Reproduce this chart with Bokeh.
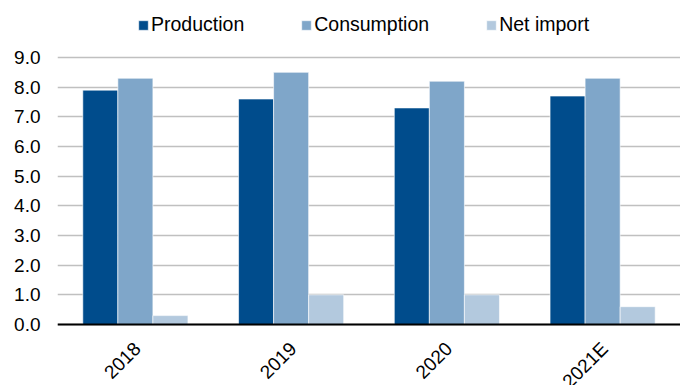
import math

from bokeh.core.properties import value
from bokeh.embed import file_html
from bokeh.models import (ColumnDataSource, FactorRange, FixedTicker, Legend,
                          LegendItem, NumeralTickFormatter, Range1d, Span)
from bokeh.plotting import figure
from bokeh.resources import INLINE
from bokeh.transform import dodge

# Annual balance (values per year)
years = ["2018", "2019", "2020", "2021E"]
production = [7.9, 7.6, 7.3, 7.7]
consumption = [8.3, 8.5, 8.2, 8.3]
net_import = [0.3, 1.0, 1.0, 0.6]

y_ticks = [0, 1, 2, 3, 4, 5, 6, 7, 8, 9]

series_names = ["Production", "Consumption", "Net import"]
series_colors = ["#004C8C", "#7FA6C9", "#B3C9DE"]

FONT = "Liberation Sans"
FONT_SIZE = "19px"
LEGEND_FONT_SIZE = "19.5px"

source = ColumnDataSource(dict(
    year=years,
    production=production,
    consumption=consumption,
    net_import=net_import,
    base=[0] * len(years),
))

# the frame spans the full height: the legend sits above the 9.0 line and
# the slanted year labels hang below the zero line
p = figure(
    x_range=FactorRange(factors=years, range_padding=0),
    y_range=Range1d(-2.056, 10.921),
    width=680, height=385,
    output_backend="svg",
    toolbar_location=None,
    x_axis_location=None,
    min_border_left=57, min_border_right=0,
    min_border_top=0, min_border_bottom=0,
)

bar_w = 0.225
fields = ["production", "consumption", "net_import"]
offsets = [-bar_w, 0.0, bar_w]
renderers = []
for field, off, color in zip(fields, offsets, series_colors):
    r = p.vbar(
        x=dodge("year", off, range=p.x_range), top=field, width=bar_w,
        source=source, fill_color=color, line_color="white", line_width=0.6,
    )
    renderers.append(r)

# zero line acting as the category axis
p.add_layout(Span(location=0, dimension="width", line_color="black", line_width=2))

# slanted year labels under each group
p.text(
    x="year", y="base", text="year", source=source,
    angle=math.pi / 4, text_align="right", text_baseline="middle",
    x_offset=2, y_offset=21,
    text_font=value(FONT), text_font_size=value(FONT_SIZE), text_color="black",
)

# legend row across the top
legend = Legend(
    items=[LegendItem(label=n, renderers=[r]) for n, r in zip(series_names, renderers)],
    orientation="horizontal",
    location=(80, 349),
    glyph_width=12, glyph_height=12,
    label_standoff=2, spacing=56, label_height=20,
    padding=0, margin=0,
    border_line_color=None, background_fill_alpha=0,
    label_text_font=FONT, label_text_font_size=LEGEND_FONT_SIZE,
    label_text_color="black",
)
p.add_layout(legend)

p.outline_line_color = None
p.background_fill_color = "white"

p.xgrid.grid_line_color = None
p.ygrid.grid_line_color = "#c0c0c0"
p.ygrid.grid_line_width = 1.5

p.yaxis.ticker = FixedTicker(ticks=y_ticks)
p.yaxis.formatter = NumeralTickFormatter(format="0.0")
p.yaxis.axis_line_color = None
p.yaxis.major_tick_line_color = None
p.yaxis.minor_tick_line_color = None
p.yaxis.major_tick_out = 0
p.yaxis.major_label_standoff = 17
p.yaxis.major_label_text_font = FONT
p.yaxis.major_label_text_font_size = FONT_SIZE
p.yaxis.major_label_text_color = "black"

open("out.html", "w").write(file_html(p, INLINE))
